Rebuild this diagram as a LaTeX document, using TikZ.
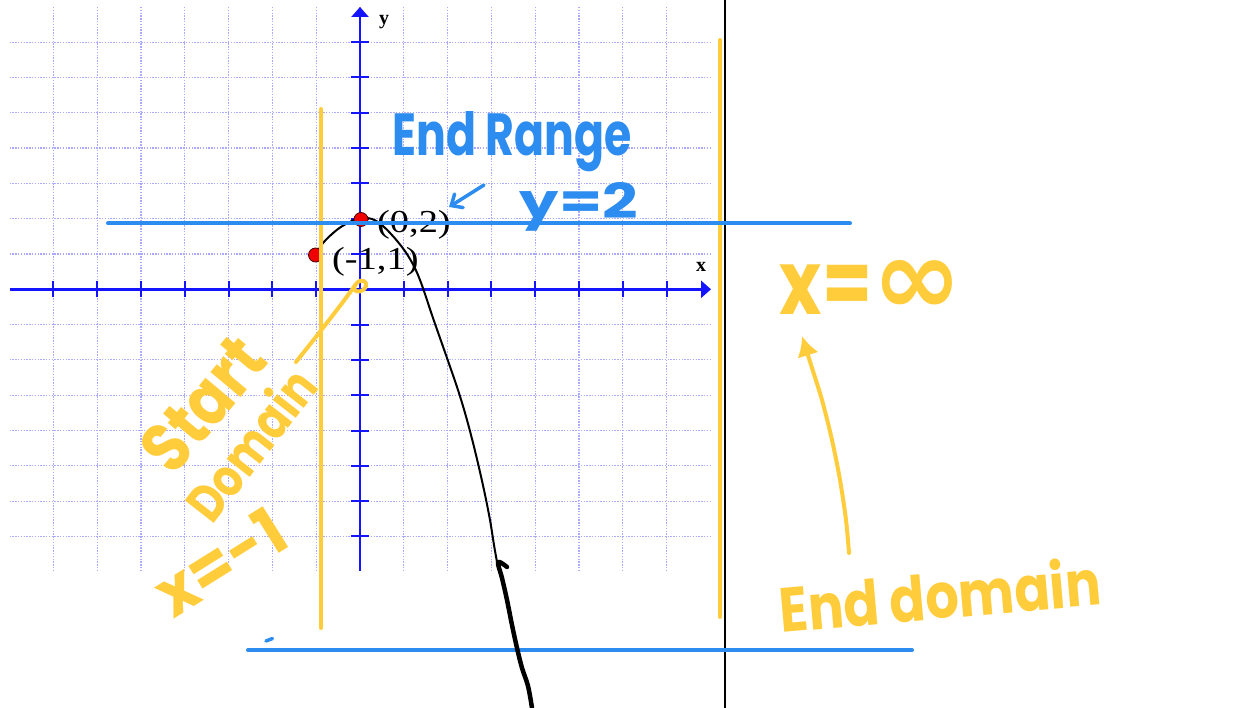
\documentclass[tikz,border=0pt]{standalone}
\usepackage{fontspec}
\setmainfont{Liberation Serif}
\newfontfamily\handfont{Poppins}
\newfontfamily\symfont{DejaVu Sans}
\usetikzlibrary{arrows.meta}
\definecolor{axisblue}{RGB}{20,20,255}
\definecolor{gridblue}{RGB}{170,170,255}
\definecolor{penblue}{RGB}{45,140,240}
\definecolor{penyellow}{RGB}{255,205,60}
\definecolor{dotred}{RGB}{240,0,0}
\tikzset{
  gridline/.style={gridblue, line width=1.2pt, dash pattern=on 1.4pt off 1.4pt},
  axisline/.style={axisblue, line width=2.6pt},
  tickline/.style={axisblue, line width=2pt},
  axlabel/.style={inner sep=0pt, font=\fontsize{20}{20}\selectfont\bfseries},
  ptlabel/.style={inner sep=0pt, anchor=base west, font=\fontsize{32}{32}\selectfont},
  reddot/.style={circle, fill=dotred, draw=black!70!red, line width=0.8pt, minimum size=14pt, inner sep=0pt},
  bluepen/.style={penblue, line width=4pt, line cap=round, line join=round},
  yellowpen/.style={penyellow, line width=4pt, line cap=round, line join=round},
  bluehand/.style={inner sep=0pt, text=penblue, font=\handfont\bfseries},
  yellowhand/.style={inner sep=0pt, text=penyellow, font=\handfont\bfseries},
  curve/.style={black, line width=2pt, line cap=round, line join=round},
  thickcurve/.style={black, line width=4.5pt, line cap=round, line join=round}
}
\begin{document}
\begin{tikzpicture}[x=1pt, y=-1pt]
\useasboundingbox[fill=white] (0,0) rectangle (1242,708);
% grid
\foreach \i in {-7,...,7} {
  \draw[gridline] ({360+43.8*\i},7) -- ({360+43.8*\i},571);
  \draw[gridline] (9.6,{289.3+35.3*\i}) -- (710.4,{289.3+35.3*\i});
}
% axes
\coordinate (xs) at (9.6,289.3);
\coordinate (xe) at (711,289.3);
\coordinate (ys) at (360,571);
\coordinate (ye) at (360,7);
\draw[axisline, -{Triangle[length=10pt,width=17pt]}] (xs) -- (xe);
\draw[axisline, -{Triangle[length=10pt,width=17pt]}] (ys) -- (ye);
\foreach \i in {-7,...,-1,1,2,...,7} {
  \draw[tickline] ({360+43.8*\i},281) -- ++(0,16);
  \draw[tickline] (351,{289.3+35.3*\i}) -- ++(18,0);
}
\node[axlabel] (ylab) at (384,22) {y};
\node[axlabel] (xlab) at (701,267) {x};
% thin black curve
\draw[curve] plot[smooth, tension=0.6] coordinates {(316,255) (323,243) (338,229) (352,221) (362,218) (372,219) (383,226) (398,242) (410,259) (420,280) (433,318) (447,358) (458,390) (467,420) (476,455) (484,490) (490,520) (494,545) (497,562)};
% points
\node[reddot] (p02) at (361,219.5) {};
\node[reddot] (p11) at (315.5,255) {};
\node[ptlabel] (l02) at (377,233) {\scalebox{1.2}[1]{(0,2)}};
\node[ptlabel] (l11) at (332,270) {\scalebox{1.2}[1]{(-1,1)}};
% yellow vertical lines
\coordinate (yl1) at (321,109);
\coordinate (yl2) at (321,628);
\coordinate (yr1) at (720,40);
\coordinate (yr2) at (720,617);
\draw[yellowpen] (yl1) -- (yl2);
\draw[yellowpen] (yr1) -- (yr2);
% black vertical divider
\coordinate (bv1) at (724.5,0);
\coordinate (bv2) at (724.5,708);
\draw[black, line width=2pt] (bv1) -- (bv2);
% blue horizontal lines
\coordinate (bt1) at (108,223.5);
\coordinate (bt2) at (850,223.5);
\coordinate (bb1) at (248,650);
\coordinate (bb2) at (912,650);
\draw[bluepen] (bt1) -- (bt2);
\draw[bluepen] (bb1) -- (bb2);
\coordinate (dash1) at (266,641);
\coordinate (dash2) at (272.5,638.5);
\draw[bluepen, line width=3.5pt] (dash1) -- (dash2);
% thick black lower curve
\draw[thickcurve] plot[smooth, tension=0.6] coordinates {(507,567) (498,562) (502,578) (507,600) (512,625) (517,648) (522,668) (528,686) (532,708)};
% blue handwriting
\node[bluehand] (endrange) at (512,142) {\resizebox{239pt}{44pt}{End Range}};
\node[bluehand] (y2) at (579,207) {\resizebox{118pt}{36pt}{y=2}};
\coordinate (barrow1) at (484,185);
\coordinate (barrow2) at (449,207);
\draw[bluepen, line width=3.5pt, -{Straight Barb[length=9pt,width=16pt,line cap=round]}] (barrow1) -- (barrow2);
% yellow handwriting
\node[yellowhand] (xinf) at (871,287) {\resizebox{182pt}{54pt}{x=\symfont\scalebox{1.5}[1.2]{∞}}};
\node[yellowhand, rotate=5] (enddomain) at (940,594) {\resizebox{322pt}{50pt}{End domain}};
\node[yellowhand, rotate=50] (start) at (203,404) {\resizebox{150pt}{50pt}{Start}};
\node[yellowhand, rotate=52] (domain) at (250,444) {\resizebox{175pt}{42pt}{Domain}};
\node[yellowhand, rotate=32] (xm1) at (220,562) {\resizebox{140pt}{48pt}{x=-1}};
% yellow arrow to x = infinity
\draw[yellowpen, -{Latex[length=20pt,width=22pt]}] plot[smooth] coordinates {(849,553) (846,520) (840,480) (832,440) (822,400) (812,368) (802,336)};
% yellow pointer from Domain to origin
\coordinate (dtail) at (296,362);
\coordinate (orig) at (356,284);
\draw[yellowpen] (dtail) .. controls (320,332) and (345,300) .. (orig) .. controls (362,276) and (371,284) .. (363,290) .. controls (359,293) and (354,292) .. (354,287);
\end{tikzpicture}
\end{document}
